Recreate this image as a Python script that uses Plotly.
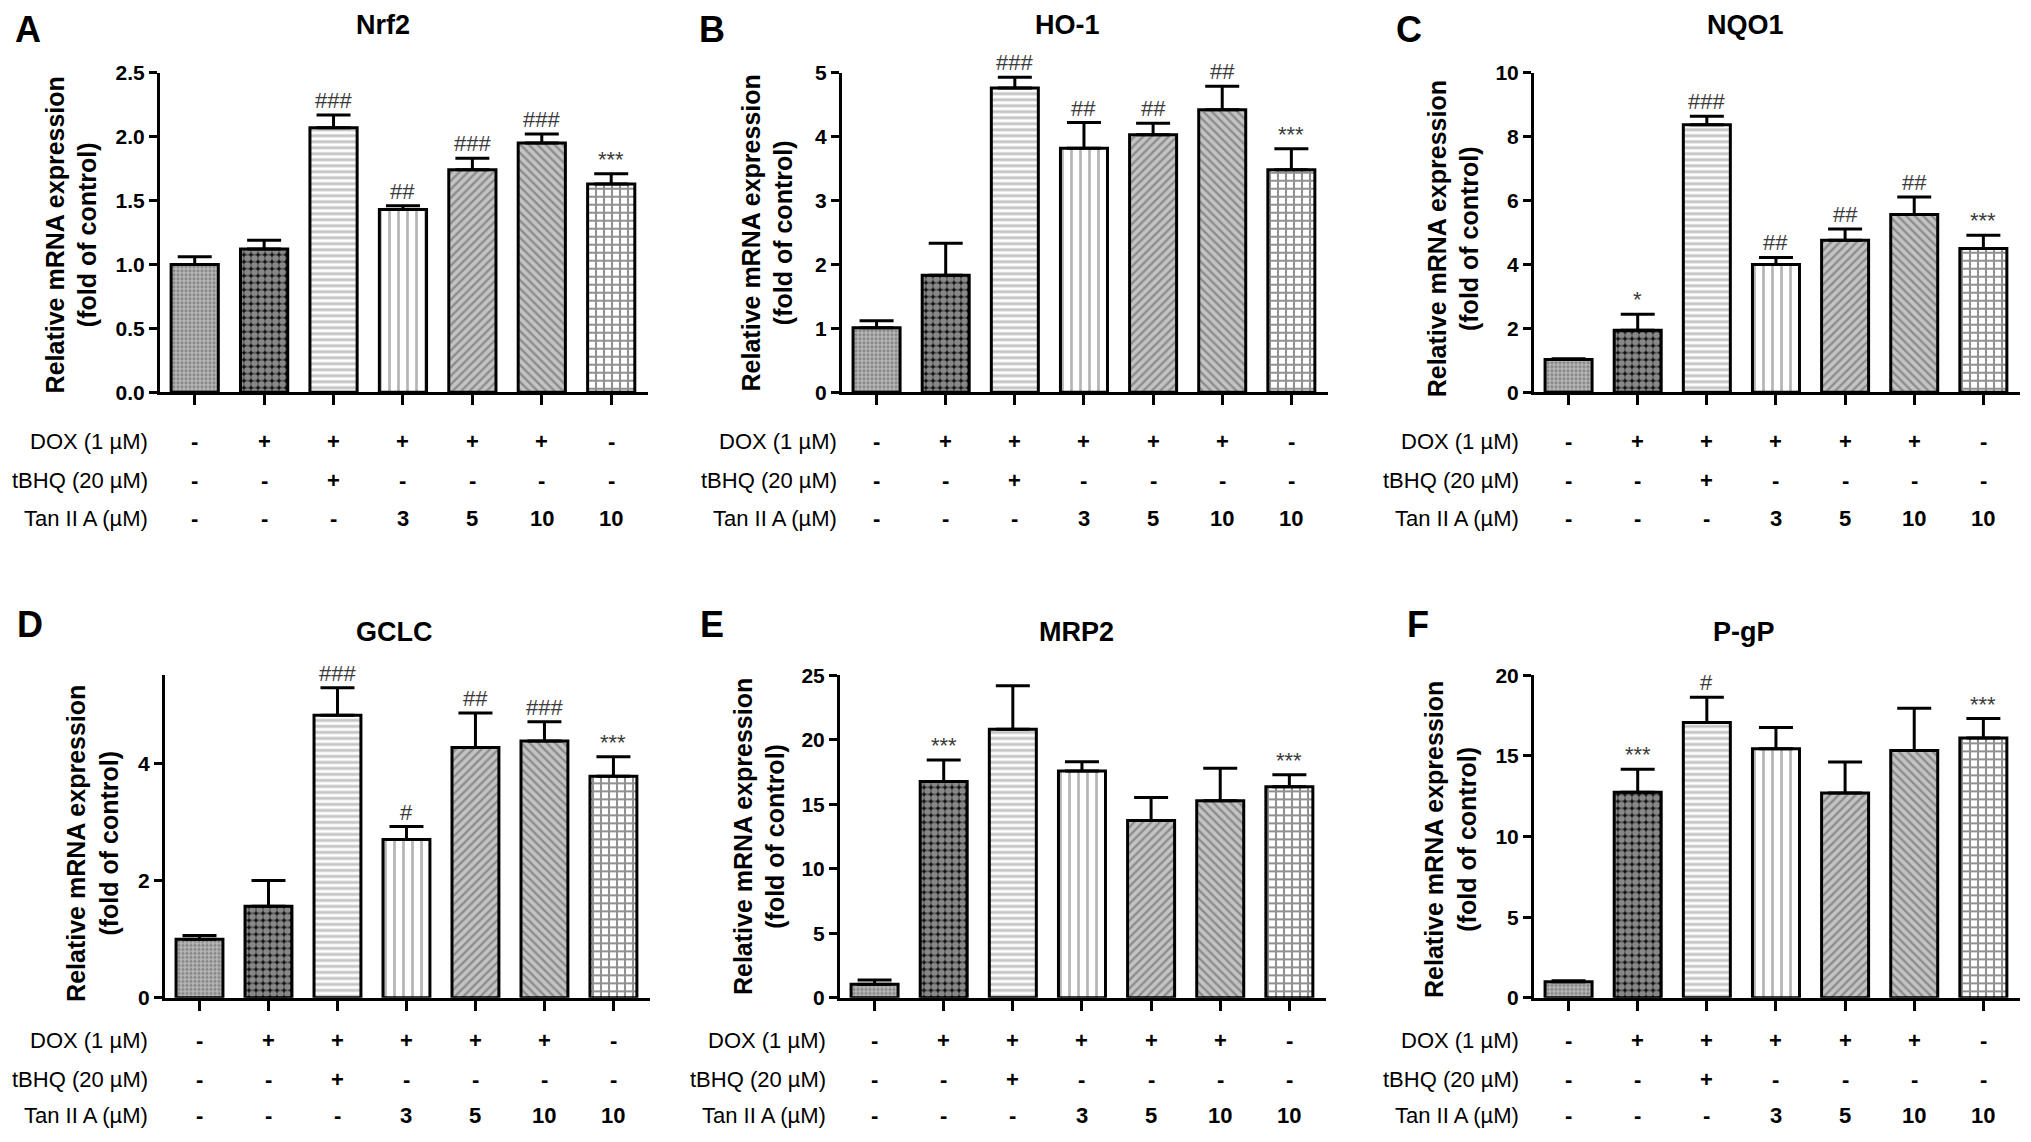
import plotly.graph_objects as go

# Data (mean values and upper SEM)
genes = ["Nrf2", "HO-1", "NQO1", "GCLC", "MRP2", "P-gP"]
letters = ["A", "B", "C", "D", "E", "F"]

nrf2_mean = [1.00, 1.12, 2.07, 1.43, 1.74, 1.95, 1.63]
nrf2_err = [0.06, 0.07, 0.10, 0.03, 0.09, 0.07, 0.08]
ho1_mean = [1.01, 1.83, 4.76, 3.82, 4.03, 4.42, 3.48]
ho1_err = [0.11, 0.50, 0.17, 0.40, 0.18, 0.37, 0.33]
nqo1_mean = [1.02, 1.94, 8.37, 4.00, 4.76, 5.56, 4.50]
nqo1_err = [0.03, 0.50, 0.27, 0.22, 0.35, 0.55, 0.41]
gclc_mean = [1.00, 1.56, 4.82, 2.70, 4.27, 4.38, 3.78]
gclc_err = [0.06, 0.44, 0.47, 0.22, 0.59, 0.33, 0.33]
mrp2_mean = [1.04, 16.76, 20.82, 17.58, 13.74, 15.27, 16.37]
mrp2_err = [0.33, 1.67, 3.38, 0.72, 1.78, 2.53, 0.93]
pgp_mean = [0.99, 12.75, 17.08, 15.45, 12.70, 15.34, 16.11]
pgp_err = [0.06, 1.43, 1.56, 1.32, 1.92, 2.62, 1.21]

nrf2_sig = ["", "", "###", "##", "###", "###", "***"]
ho1_sig = ["", "", "###", "##", "##", "##", "***"]
nqo1_sig = ["", "*", "###", "##", "##", "##", "***"]
gclc_sig = ["", "", "###", "#", "##", "###", "***"]
mrp2_sig = ["", "***", "", "", "", "", "***"]
pgp_sig = ["", "***", "#", "", "", "", "***"]

# y axis ranges and tick steps per panel
y_max = [2.5, 5, 10, 5.5, 25, 20]
y_dtick = [0.5, 1, 2, 2, 5, 5]
y_fmt = [".1f", "d", "d", "d", "d", "d"]

# treatment table under each panel
row_names = ["DOX (1 µM)", "tBHQ (20 µM)", "Tan II A (µM)"]
dox_row = ["-", "+", "+", "+", "+", "+", "-"]
tbhq_row = ["-", "-", "+", "-", "-", "-", "-"]
tan_row = ["-", "-", "-", "3", "5", "10", "10"]

means = [nrf2_mean, ho1_mean, nqo1_mean, gclc_mean, mrp2_mean, pgp_mean]
errs = [nrf2_err, ho1_err, nqo1_err, gclc_err, mrp2_err, pgp_err]
sigs = [nrf2_sig, ho1_sig, nqo1_sig, gclc_sig, mrp2_sig, pgp_sig]
rows = [dox_row, tbhq_row, tan_row]

W, H = 2031, 1142
FONT = "Liberation Sans, Arial, sans-serif"

# panel geometry in pixels (axis start, axis end)
x_px = [(160, 648), (842, 1328), (1534, 2020),
        (165, 650), (840, 1326), (1534, 2020)]
y_px = [(62, 388), (62, 388), (62, 388),
        (677, 1006), (677, 1006), (677, 1006)]
title_x = [383, 1067, 1745, 394, 1076, 1744]
letter_x = [28, 712, 1409, 30, 712, 1418]
ytitle_x = [71, 767, 1453, 93, 759, 1451]
ytitle_y = [228, 226, 232, 849, 842, 845]
label_right = [150, 839, 1521, 150, 828, 1521]
title_y = [13, 633]
letter_y = [18, 625]
row_y_top = [438, 478, 517]
row_y_bot = [1050, 1089, 1126]

# bar fill patterns, one per treatment group
pat_shape = [".", ".", "-", "|", "/", "\\", "+"]
pat_bg = ["#b8b8b8", "#111111", "#ffffff", "#ffffff", "#c4c4c4", "#c4c4c4", "#ffffff"]
pat_fg = ["#555555", "#ffffff", "#8a8a8a", "#6a6a6a", "#555555", "#555555", "#222222"]
pat_size = [4, 7, 6, 9, 6, 6, 8]
pat_sol = [0.5, 0.7, 0.5, 0.3, 0.4, 0.4, 0.45]


def ax(name, k):
    return name if k == 0 else name + str(k + 1)


fig = go.Figure()
annotations = []
layout = {}

for k in range(6):
    for i in range(7):
        fig.add_trace(go.Bar(
            x=[i], y=[means[k][i]], width=0.68,
            xaxis=ax("x", k), yaxis=ax("y", k),
            marker=dict(color=pat_bg[i], line=dict(color="black", width=3),
                        pattern=dict(shape=pat_shape[i], bgcolor=pat_bg[i],
                                     fgcolor=pat_fg[i], size=pat_size[i],
                                     solidity=pat_sol[i])),
            error_y=dict(type="data", symmetric=False, array=[errs[k][i]],
                         arrayminus=[0], color="black", thickness=3, width=17),
            showlegend=False, hoverinfo="y"))

    x0, x1 = x_px[k]
    yt, yb = y_px[k]
    layout[ax("xaxis", k)] = dict(
        domain=[x0 / W, x1 / W], range=[-0.5, 6.53], anchor=ax("y", k),
        showline=True, linecolor="black", linewidth=3,
        tickvals=list(range(7)), ticks="outside", ticklen=10, tickwidth=3,
        tickcolor="black", showticklabels=False, showgrid=False, zeroline=False,
        fixedrange=True)
    layout[ax("yaxis", k)] = dict(
        domain=[1 - yb / H, 1 - yt / H], range=[0, y_max[k]], anchor=ax("x", k),
        showline=True, linecolor="black", linewidth=3,
        tick0=0, dtick=y_dtick[k], tickformat=y_fmt[k],
        ticks="outside", ticklen=8, tickwidth=3, tickcolor="black",
        tickfont=dict(family=FONT, size=21, color="black", weight="bold"),
        showgrid=False, zeroline=False, fixedrange=True)

    r_i = 0 if k < 3 else 1
    # panel letter and gene title
    annotations.append(dict(xref="paper", yref="paper", x=letter_x[k] / W,
                            y=1 - letter_y[r_i] / H,
                            xanchor="center", yanchor="middle",
                            text="<b>%s</b>" % letters[k], showarrow=False,
                            font=dict(family=FONT, size=36, color="black")))
    annotations.append(dict(xref="paper", yref="paper", x=title_x[k] / W,
                            y=1 - title_y[r_i] / H,
                            xanchor="center", yanchor="middle",
                            text="<b>%s</b>" % genes[k], showarrow=False,
                            font=dict(family=FONT, size=27, color="black")))
    # y axis title
    annotations.append(dict(xref="paper", yref="paper", x=ytitle_x[k] / W,
                            y=1 - ytitle_y[k] / H, xanchor="center", yanchor="middle",
                            textangle=-90,
                            text="<b>Relative mRNA expression<br>(fold of control)</b>",
                            showarrow=False, font=dict(family=FONT, size=25, color="black")))
    # significance marks above error bars
    for i, s in enumerate(sigs[k]):
        if s:
            annotations.append(dict(xref=ax("x", k), yref=ax("y", k), x=i,
                                    y=means[k][i] + errs[k][i],
                                    xanchor="center", yanchor="bottom",
                                    yshift=0, text=s, showarrow=False,
                                    font=dict(family=FONT, size=22, color="#3a3a3a")))
    # treatment table
    ry = row_y_top if k < 3 else row_y_bot
    for r in range(3):
        annotations.append(dict(xref="paper", yref="paper", x=label_right[k] / W,
                                y=1 - ry[r] / H, xanchor="right", yanchor="middle",
                                text=row_names[r], showarrow=False,
                                font=dict(family=FONT, size=22, color="black")))
        for i, s in enumerate(rows[r]):
            annotations.append(dict(xref=ax("x", k), yref="paper", x=i, y=1 - ry[r] / H,
                                    xanchor="center", yanchor="middle",
                                    text="<b>%s</b>" % s, showarrow=False,
                                    font=dict(family=FONT, size=22, color="black")))

fig.update_layout(
    width=W, height=H,
    margin=dict(l=0, r=0, t=0, b=0),
    paper_bgcolor="white", plot_bgcolor="white",
    barmode="overlay",
    annotations=annotations,
    **layout)

# drop the default page margin so the figure sits at the window corner
fig.write_html("out.html", config={"displayModeBar": False},
               post_script="document.body.style.margin='0';")
